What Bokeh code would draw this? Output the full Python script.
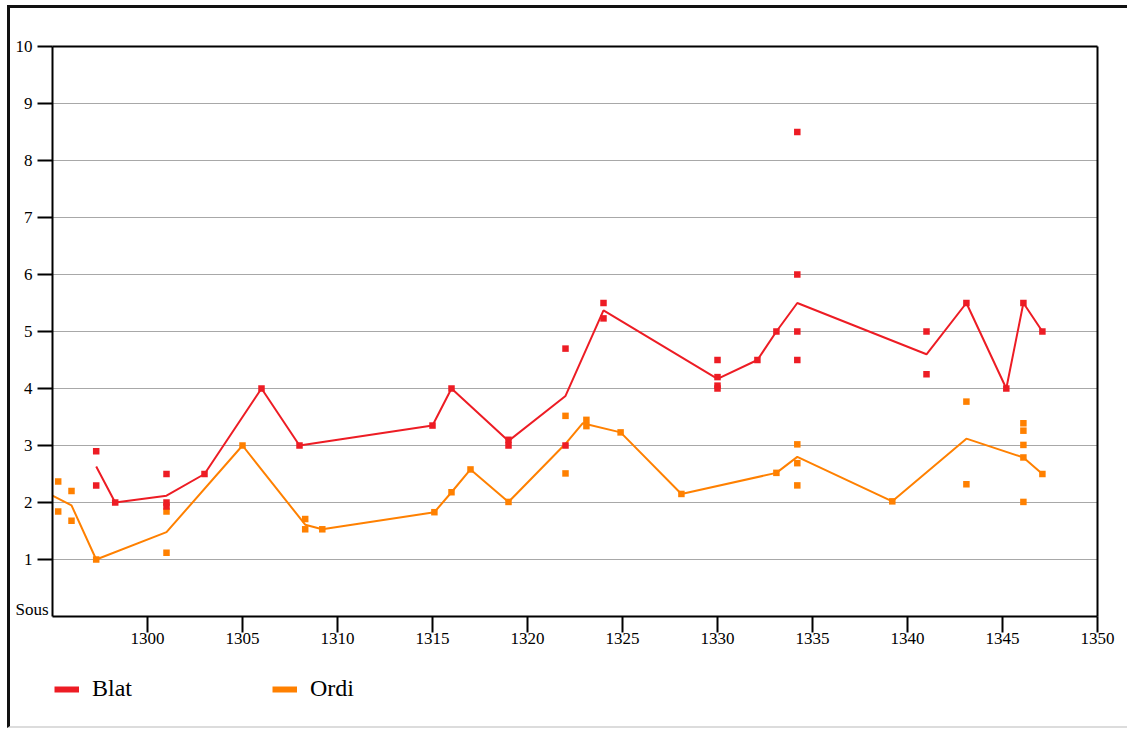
from bokeh.plotting import figure
from bokeh.models import (Range1d, FixedTicker, Legend, LegendItem, Label, ColumnDataSource,
                          LinearAxis)
from bokeh.embed import file_html
from bokeh.resources import INLINE

# ---- data ----
blat_years = [1297.3, 1297.3, 1298.3, 1301.0, 1301.0, 1301.0, 1303.0, 1306.0, 1308.0,
              1315.0, 1316.0, 1319.0, 1319.0, 1322.0, 1322.0, 1324.0, 1324.0,
              1330.0, 1330.0, 1330.0, 1330.0, 1332.1, 1333.1,
              1334.2, 1334.2, 1334.2, 1334.2, 1341.0, 1341.0, 1343.1, 1345.2, 1346.1, 1347.1]
blat_values = [2.9, 2.3, 2.0, 2.5, 2.0, 1.93, 2.5, 4.0, 3.0,
               3.35, 4.0, 3.1, 3.0, 4.7, 3.0, 5.5, 5.23,
               4.5, 4.2, 4.05, 4.0, 4.5, 5.0,
               8.5, 6.0, 5.0, 4.5, 5.0, 4.25, 5.5, 4.0, 5.5, 5.0]
blat_mean_years = [1297.3, 1298.3, 1301.0, 1303.0, 1306.0, 1308.0, 1315.0, 1316.0, 1319.0,
                   1322.0, 1324.0, 1330.0, 1332.1, 1333.1, 1334.2, 1341.0, 1343.1,
                   1345.2, 1346.1, 1347.1]
blat_mean = [2.63, 2.0, 2.12, 2.5, 4.0, 3.0, 3.35, 4.0, 3.08,
             3.87, 5.37, 4.17, 4.5, 5.0, 5.5, 4.6, 5.5,
             4.0, 5.5, 5.0]

ordi_years = [1295.3, 1295.3, 1296.0, 1296.0, 1297.3, 1301.0, 1301.0, 1305.0,
              1308.3, 1308.3, 1309.2, 1315.1, 1316.0, 1317.0, 1319.0,
              1322.0, 1322.0, 1323.1, 1323.1, 1324.9, 1328.1, 1333.1,
              1334.2, 1334.2, 1334.2, 1339.2, 1343.1, 1343.1,
              1346.1, 1346.1, 1346.1, 1346.1, 1346.1, 1347.1]
ordi_values = [2.37, 1.84, 2.2, 1.68, 1.0, 1.84, 1.12, 3.0,
               1.71, 1.53, 1.53, 1.83, 2.18, 2.58, 2.01,
               3.52, 2.51, 3.45, 3.34, 3.23, 2.15, 2.52,
               3.02, 2.69, 2.3, 2.02, 3.77, 2.32,
               3.39, 3.26, 3.01, 2.79, 2.01, 2.5]
ordi_mean_years = [1295.0, 1296.0, 1297.3, 1301.0, 1305.0, 1308.3, 1309.2, 1315.1, 1316.0,
                   1317.0, 1319.0, 1322.0, 1322.9, 1324.9, 1328.1, 1333.1, 1334.2,
                   1339.2, 1343.1, 1346.1, 1347.1]
ordi_mean = [2.12, 1.95, 1.0, 1.48, 3.0, 1.61, 1.53, 1.83, 2.18,
             2.58, 2.01, 3.03, 3.39, 3.23, 2.15, 2.52, 2.8,
             2.02, 3.12, 2.79, 2.5]

x_ticks = [1300, 1305, 1310, 1315, 1320, 1325, 1330, 1335, 1340, 1345, 1350]
y_ticks = [1, 2, 3, 4, 5, 6, 7, 8, 9, 10]
series_names = ["Blat", "Ordi"]
y_floor_label = "Sous"

X_MIN, X_MAX = 1295, 1350
Y_MIN, Y_MAX = 0, 10

RED = "#ED1C24"
ORANGE = "#FF8000"
FONT = "Liberation Serif"

# ---- layout (pixels) ----
W, H = 1120, 723
PLOT_L, PLOT_R = 42, 1087      # plot box inside canvas
PLOT_T, PLOT_B = 38, 608
ppx = (PLOT_R - PLOT_L) / (X_MAX - X_MIN)
ppy = (PLOT_B - PLOT_T) / (Y_MAX - Y_MIN)
x_range = Range1d(X_MIN - PLOT_L / ppx, X_MAX + (W - PLOT_R) / ppx)
y_range = Range1d(Y_MIN - (H - PLOT_B) / ppy, Y_MAX + PLOT_T / ppy)

p = figure(width=W, height=H, x_range=x_range, y_range=y_range, title=None,
           x_axis_type=None, y_axis_type=None,
           output_backend="svg", toolbar_location=None, min_border=0)
p.styles = {"margin-left": "7px", "margin-top": "5px",
            "border-left": "3px solid #111111", "border-top": "3px solid #111111",
            "border-bottom": "2px solid #dcdcdc"}
p.background_fill_color = "white"
p.border_fill_color = "white"
p.outline_line_color = None

# horizontal grid lines, limited to the plot box
grid_levels = y_ticks[:-1]
p.segment(x0=[X_MIN] * len(grid_levels), x1=[X_MAX] * len(grid_levels),
          y0=grid_levels, y1=grid_levels, line_color="#a8a8a8", line_width=1, level="underlay")

def style_axis(ax):
    ax.axis_line_width = 2
    ax.axis_line_color = "black"
    ax.major_tick_line_width = 2
    ax.major_tick_line_color = "black"
    ax.major_tick_in = 0
    ax.minor_tick_line_color = None
    ax.major_label_text_font = FONT
    ax.major_label_text_font_size = "17px"
    ax.major_label_text_color = "black"

xaxis = LinearAxis(fixed_location=Y_MIN, bounds=(X_MIN, X_MAX), ticker=FixedTicker(ticks=x_ticks))
style_axis(xaxis)
xaxis.major_tick_out = 16
xaxis.major_label_standoff = 0
p.add_layout(xaxis, "below")

yaxis = LinearAxis(fixed_location=X_MIN, bounds=(Y_MIN, Y_MAX), ticker=FixedTicker(ticks=y_ticks))
style_axis(yaxis)
yaxis.major_tick_out = 15
yaxis.major_label_standoff = 5
p.add_layout(yaxis, "left")

# top and right edges of the plot box
top_edge = LinearAxis(fixed_location=Y_MAX, bounds=(X_MIN, X_MAX), ticker=FixedTicker(ticks=[]))
style_axis(top_edge)
p.add_layout(top_edge, "above")
right_edge = LinearAxis(fixed_location=X_MAX, bounds=(Y_MIN, Y_MAX), ticker=FixedTicker(ticks=[]))
style_axis(right_edge)
p.add_layout(right_edge, "right")

src_bp = ColumnDataSource(dict(x=blat_years, y=blat_values))
src_bm = ColumnDataSource(dict(x=blat_mean_years, y=blat_mean))
src_op = ColumnDataSource(dict(x=ordi_years, y=ordi_values))
src_om = ColumnDataSource(dict(x=ordi_mean_years, y=ordi_mean))

p.line("x", "y", source=src_om, line_color=ORANGE, line_width=2)
p.scatter("x", "y", source=src_op, marker="square", size=6.5, fill_color=ORANGE, line_color=None)
p.line("x", "y", source=src_bm, line_color=RED, line_width=2)
p.scatter("x", "y", source=src_bp, marker="square", size=6.5, fill_color=RED, line_color=None)

leg_b = p.line("x", "y", source=src_bm, line_color=RED, line_width=6, visible=False)
leg_o = p.line("x", "y", source=src_om, line_color=ORANGE, line_width=6, visible=False)

legend = Legend(items=[LegendItem(label=series_names[0], renderers=[leg_b]),
                       LegendItem(label=series_names[1], renderers=[leg_o])],
                orientation="horizontal", location=(44, 29), padding=0, margin=0, spacing=0,
                glyph_width=25, glyph_height=24, label_standoff=13, label_width=180,
                label_text_font=FONT, label_text_font_size="24px", label_text_color="black",
                border_line_color=None, background_fill_alpha=0)
p.add_layout(legend, "center")

sous = Label(x=X_MIN, y=Y_MIN, x_offset=-4, y_offset=7, text=y_floor_label,
             text_align="right", text_baseline="middle",
             text_font=FONT, text_font_size="17px", text_color="black")
p.add_layout(sous)

open("out.html", "w").write(file_html(p, INLINE))
